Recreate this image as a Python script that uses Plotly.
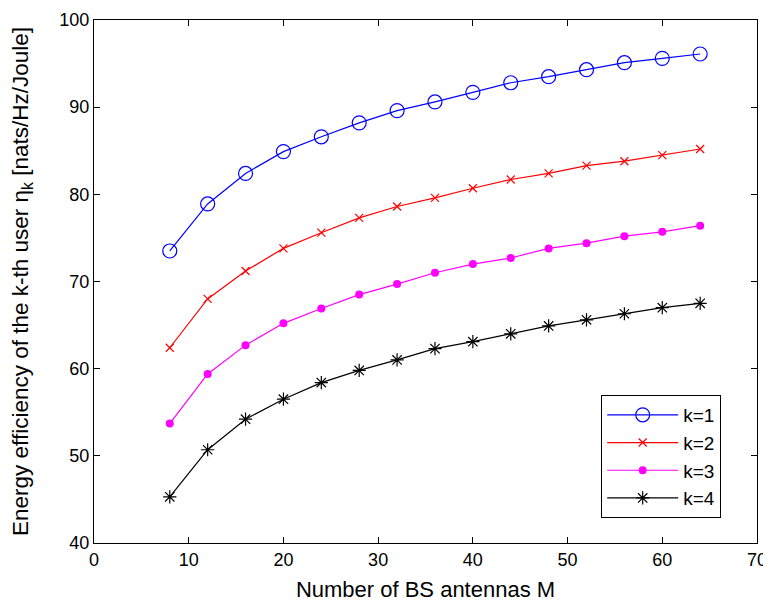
import plotly.graph_objects as go

M = [8, 12, 16, 20, 24, 28, 32, 36, 40, 44, 48, 52, 56, 60, 64]
k1 = [73.5, 78.9, 82.4, 84.9, 86.6, 88.2, 89.6, 90.6, 91.7, 92.8, 93.5, 94.3, 95.1, 95.6, 96.1]
k2 = [62.4, 68.0, 71.2, 73.8, 75.6, 77.3, 78.6, 79.6, 80.7, 81.7, 82.4, 83.3, 83.8, 84.5, 85.2]
k3 = [53.7, 59.4, 62.7, 65.2, 66.9, 68.5, 69.7, 71.0, 72.0, 72.7, 73.8, 74.4, 75.2, 75.7, 76.4]
k4 = [45.3, 50.7, 54.2, 56.5, 58.4, 59.8, 61.0, 62.3, 63.1, 64.0, 64.9, 65.6, 66.3, 67.0, 67.5]
names = ["k=1", "k=2", "k=3", "k=4"]

fig = go.Figure()
styles = [
    (k1, "#0000ff", dict(symbol="circle-open", size=14, line=dict(width=1.2, color="#0000ff"))),
    (k2, "#ff0000", dict(symbol="x-thin-open", size=8, line=dict(width=1.2, color="#ff0000"))),
    (k3, "#ff00ff", dict(symbol="circle", size=8, color="#ff00ff")),
    (k4, "#000000", dict(symbol="asterisk-open", size=11, line=dict(width=1.2, color="#000000"))),
]
for (ys, col, mk), nm in zip(styles, names):
    mk.setdefault("color", col)
    fig.add_trace(go.Scatter(x=M, y=ys, name=nm, mode="lines+markers",
                             line=dict(color=col, width=1.2), marker=mk))

axis_common = dict(showgrid=False, zeroline=False, showline=True, linecolor="black",
                   linewidth=1, mirror="ticks", ticks="inside", ticklen=6,
                   tickcolor="black", tickfont=dict(size=18, color="black"),
                   automargin=False)
fig.update_xaxes(range=[0, 70], dtick=10, title=dict(text="Number of BS antennas M",
                 font=dict(size=22, color="black"), standoff=13), **axis_common)
fig.update_yaxes(range=[40, 100], dtick=10,
                 title=dict(text="Energy efficiency of the k-th user η<sub>k</sub> [nats/Hz/Joule]",
                            font=dict(size=22.5, color="black"), standoff=24), **axis_common)
fig.update_layout(
    width=763, height=595,
    margin=dict(l=86, r=14, t=12, b=60),
    paper_bgcolor="white", plot_bgcolor="white",
    font=dict(family="Liberation Sans, Arial, sans-serif", color="black"),
    legend=dict(x=0.765, y=0.283, xanchor="left", yanchor="top",
                bordercolor="black", borderwidth=1, bgcolor="white",
                font=dict(size=19), tracegroupgap=2, itemwidth=71),
)
fig.write_html("out.html")
